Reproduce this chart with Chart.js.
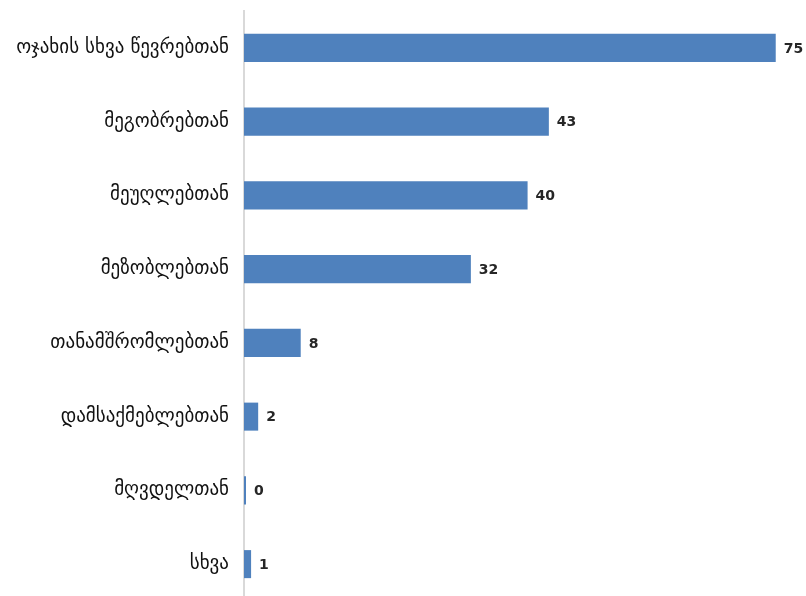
<!DOCTYPE html>
<html>
<head>
<meta charset="utf-8">
<script src="https://cdn.jsdelivr.net/npm/chart.js@4/dist/chart.umd.min.js"></script>
<style>
  html, body { margin: 0; padding: 0; background: #fff; overflow: hidden; }
  canvas { display: block; }
</style>
</head>
<body>
<canvas id="c" width="806" height="612"></canvas>
<script>
// კატეგორიები და მნიშვნელობები
const categories = [
  'ოჯახის სხვა წევრებთან',
  'მეგობრებთან',
  'მეუღლებთან',
  'მეზობლებთან',
  'თანამშრომლებთან',
  'დამსაქმებლებთან',
  'მღვდელთან',
  'სხვა'
];
const values = [75, 43, 40, 32, 8, 2, 0, 1];

const BAR_COLOR = '#4f81bd';
const FONT = "'DejaVu Sans', sans-serif";

// მნიშვნელობის წარწერა ზოლის ბოლოს
const valueLabels = {
  id: 'valueLabels',
  afterDatasetsDraw(chart) {
    const { ctx } = chart;
    const meta = chart.getDatasetMeta(0);
    ctx.save();
    ctx.font = "bold 14px " + FONT;
    ctx.fillStyle = '#262626';
    ctx.textAlign = 'left';
    ctx.textBaseline = 'middle';
    meta.data.forEach((bar, i) => {
      ctx.fillText(String(values[i]), Math.max(bar.x, bar.base + 2) + 8, bar.y + 1);
    });
    ctx.restore();
  }
};

new Chart(document.getElementById('c'), {
  type: 'bar',
  plugins: [valueLabels],
  data: {
    labels: categories,
    datasets: [{
      data: values,
      backgroundColor: BAR_COLOR,
      barPercentage: 0.76,
      categoryPercentage: 0.5,
      minBarLength: 2
    }]
  },
  options: {
    indexAxis: 'y',
    responsive: false,
    animation: false,
    layout: { padding: { top: 11, bottom: 11, left: 0, right: 9 } },
    scales: {
      x: { display: false, min: 0, max: 78 },
      y: {
        grid: { display: false, drawTicks: false },
        border: { display: true, color: '#d9d9d9', width: 2 },
        ticks: { color: '#111', font: { family: FONT, size: 19 }, padding: 15 },
        afterFit(s) {
          s.width = 244;
          // ნიშნულების ზედა/ქვედა დაშორება არ გვჭირდება
          s.paddingTop = 0;
          s.paddingBottom = 0;
        }
      }
    },
    plugins: {
      legend: { display: false },
      tooltip: { enabled: false }
    }
  }
});
</script>
</body>
</html>
